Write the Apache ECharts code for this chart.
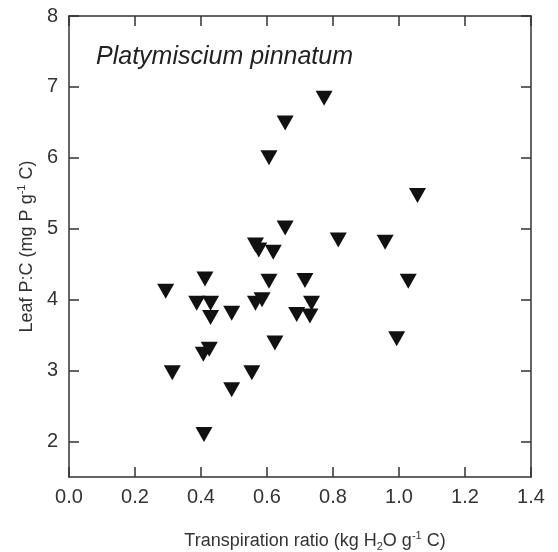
<!DOCTYPE html>
<html>
<head>
<meta charset="utf-8">
<script src="https://cdn.jsdelivr.net/npm/echarts@6/dist/echarts.min.js"></script>
<style>
  html, body { margin: 0; padding: 0; background: #fff; }
  #chart { width: 558px; height: 552px; }
</style>
</head>
<body>
<div id="chart"></div>
<script>
// transpiration ratio (x) and leaf P:C (y)
const transpiration = [
  0.293, 0.412, 0.606, 0.387, 0.429, 0.429, 0.493, 0.565, 0.585, 0.624,
  0.407, 0.425, 0.313, 0.554, 0.493, 0.409, 0.773, 0.655, 0.606, 0.655,
  0.565, 0.575, 0.619, 0.816, 0.715, 0.735, 0.690, 0.730, 1.056, 0.958,
  1.028, 0.993
];
const leafPC = [
  4.12, 4.29, 4.26, 3.95, 3.95, 3.75, 3.81, 3.95, 4.00, 3.39,
  3.23, 3.30, 2.97, 2.97, 2.73, 2.10, 6.84, 6.49, 6.00, 5.01,
  4.77, 4.70, 4.67, 4.84, 4.27, 3.95, 3.79, 3.77, 5.47, 4.81,
  4.26, 3.45
];
const xTicks = [0.0, 0.2, 0.4, 0.6, 0.8, 1.0, 1.2, 1.4];
const yTicks = [2, 3, 4, 5, 6, 7, 8];

const points = transpiration.map((x, i) => [x, leafPC[i]]);
const axisColor = '#333';
const font = 'Liberation Sans, Arial, sans-serif';

const chart = echarts.init(document.getElementById('chart'));

const lineStyle = { color: axisColor, width: 1.5 };
const axisLine = { show: true, onZero: false, lineStyle: lineStyle };

chart.setOption({
  animation: false,
  grid: { left: 69, right: 27, top: 16, bottom: 75, outerBoundsMode: 'none' },
  title: {
    text: 'Platymiscium pinnatum',
    left: 91, top: 40,
    textStyle: { fontFamily: font, fontStyle: 'italic', fontWeight: 'normal', fontSize: 25, color: '#222' }
  },
  xAxis: [
    {
      type: 'value', min: 0, max: 1.4, position: 'bottom',
      axisLine: axisLine,
      axisTick: { show: true, inside: true, length: 10, lineStyle: lineStyle, customValues: xTicks },
      splitLine: { show: false },
      axisLabel: {
        fontFamily: font, fontSize: 20, color: '#333', margin: 10,
        customValues: xTicks,
        formatter: v => v.toFixed(1)
      },
      name: '{n|Transpiration ratio (kg H}{sub|2}{n|O g}{sup|-1}{n| C)}',
      nameLocation: 'middle', nameGap: 53,
      nameTextStyle: {
        padding: [0, 0, 0, 30],
        rich: {
          n: { fontFamily: font, fontSize: 18, color: '#333', lineHeight: 22 },
          sub: { fontFamily: font, fontSize: 11, color: '#333', lineHeight: 22, verticalAlign: 'bottom', padding: [8, 0, 0, 0] },
          sup: { fontFamily: font, fontSize: 11, color: '#333', lineHeight: 22, verticalAlign: 'top', padding: [0, 0, 8, 0] }
        }
      }
    },
    {
      type: 'value', min: 0, max: 1.4, position: 'top',
      axisLine: axisLine,
      axisTick: { show: true, inside: true, length: 10, lineStyle: lineStyle, customValues: xTicks },
      splitLine: { show: false },
      axisLabel: { show: false }
    }
  ],
  yAxis: [
    {
      type: 'value', min: 1.5, max: 8, position: 'left',
      axisLine: axisLine,
      axisTick: { show: true, inside: true, length: 10, lineStyle: lineStyle, customValues: yTicks },
      splitLine: { show: false },
      axisLabel: {
        fontFamily: font, fontSize: 20, color: '#333', margin: 11,
        customValues: yTicks
      },
      name: '{n|Leaf P:C (mg P g}{sup|-1}{n| C)}',
      nameLocation: 'middle', nameGap: 30, nameRotate: 90,
      nameTextStyle: {
        rich: {
          n: { fontFamily: font, fontSize: 18, color: '#333', lineHeight: 22 },
          sup: { fontFamily: font, fontSize: 11, color: '#333', lineHeight: 22, verticalAlign: 'top', padding: [0, 0, 8, 0] }
        }
      }
    },
    {
      type: 'value', min: 1.5, max: 8, position: 'right',
      axisLine: axisLine,
      axisTick: { show: true, inside: true, length: 10, lineStyle: lineStyle, customValues: yTicks },
      splitLine: { show: false },
      axisLabel: { show: false }
    }
  ],
  series: [{
    type: 'scatter',
    data: points,
    symbol: 'triangle',
    symbolRotate: 180,
    symbolSize: [17, 15],
    itemStyle: { color: '#111', opacity: 1 }
  }]
});
</script>
</body>
</html>
